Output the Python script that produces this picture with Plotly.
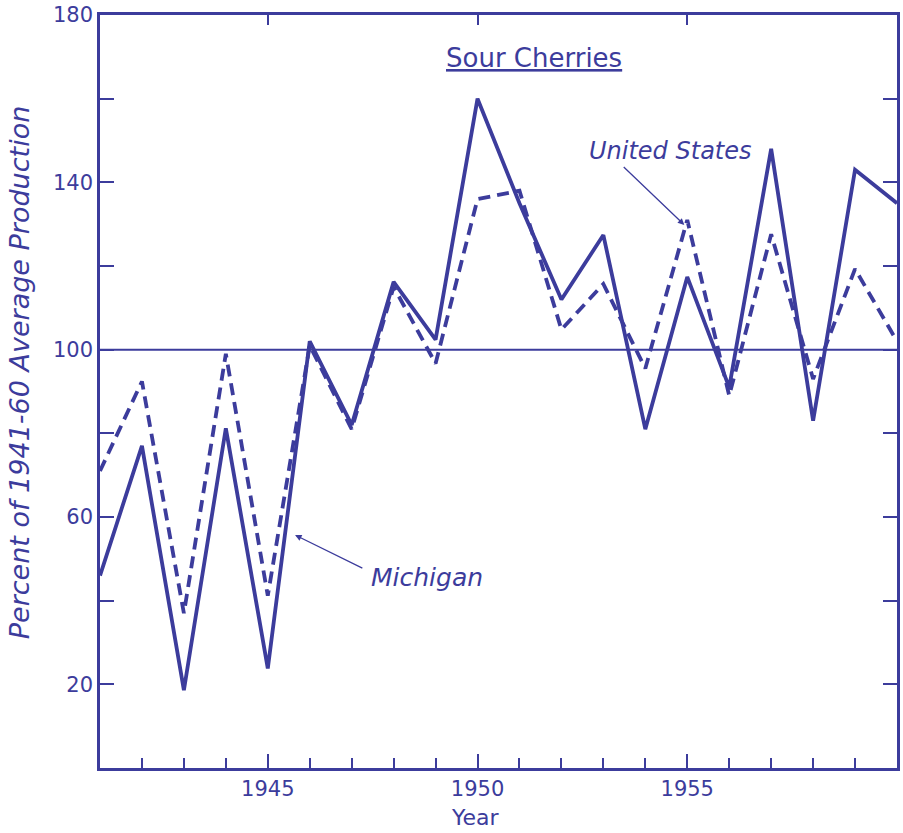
import plotly.graph_objects as go

years = list(range(1941, 1961))
michigan = [46, 77, 18.6, 81.2, 23.8, 102, 82, 116.2, 102.4, 160,
            135, 112, 127.4, 81, 117.4, 91, 148, 83, 143, 135]
united_states = [71, 92.4, 37, 99, 41.2, 101, 81, 115, 96.7, 136,
                 138, 104.8, 115.7, 95.5, 131, 89, 127.6, 93, 119.3, 102]
y_ticks = [0, 20, 40, 60, 80, 100, 120, 140, 160, 180]
y_labels = ["", "20", "", "60", "", "100", "", "140", "", "180"]
x_major = [1945, 1950, 1955]

INK = "#3c3c9c"
FONT = "DejaVu Sans"

fig = go.Figure()
fig.add_trace(go.Scatter(x=years, y=michigan, mode="lines", name="Michigan",
                         line=dict(color=INK, width=3.8)))
fig.add_trace(go.Scatter(x=years, y=united_states, mode="lines", name="United States",
                         line=dict(color=INK, width=3.8, dash="12px,7px")))
fig.add_trace(go.Scatter(x=[years[0]], y=[None], xaxis="x2", showlegend=False, hoverinfo="skip"))

fig.add_hline(y=100, line=dict(color=INK, width=2))

fig.update_layout(
    width=903, height=833,
    margin=dict(l=100, r=3, t=12, b=65),
    paper_bgcolor="white", plot_bgcolor="white",
    showlegend=False,
    font=dict(family=FONT, color=INK, size=21),
    xaxis=dict(range=[1941, 1960], tickvals=x_major, ticks="inside", ticklen=14,
               tickwidth=2, tickcolor=INK, showline=True, linecolor=INK, linewidth=2.5,
               showgrid=False, zeroline=False,
               minor=dict(tickvals=years, ticks="inside", ticklen=10, tickwidth=2, tickcolor=INK),
               tickfont=dict(size=21)),
    xaxis2=dict(range=[1941, 1960], overlaying="x", side="top", tickvals=x_major,
                ticks="inside", ticklen=10, tickwidth=2, tickcolor=INK,
                showticklabels=False, showline=True, linecolor=INK, linewidth=2.5,
                showgrid=False, zeroline=False),
    yaxis=dict(range=[0, 180], tickvals=y_ticks, ticktext=y_labels, ticks="inside",
               ticklen=14, tickwidth=2, tickcolor=INK, showline=True, linecolor=INK,
               linewidth=2.5, mirror="ticks", showgrid=False, zeroline=False,
               tickfont=dict(size=21)),
)

# axis titles
fig.add_annotation(xref="paper", yref="paper", x=-0.1, y=0.526, textangle=-90,
                   text="<i>Percent of 1941-60 Average Production</i>", showarrow=False,
                   font=dict(size=27, color=INK), xanchor="center", yanchor="middle")
fig.add_annotation(xref="x", yref="paper", x=1949.95, y=-0.066,
                   text="Year", showarrow=False, font=dict(size=22, color=INK),
                   xanchor="center", yanchor="middle")

fig.add_annotation(x=1951.35, y=169.8, xref="x", yref="y",
                   text="<u>Sour Cherries</u>", showarrow=False,
                   font=dict(size=26, color=INK))
fig.add_annotation(x=1954.93, y=129.8, xref="x", yref="y", ax=1953.45, ay=144,
                   axref="x", ayref="y",
                   text="", showarrow=True, arrowhead=2, arrowsize=1, arrowwidth=1.3,
                   arrowcolor=INK)
fig.add_annotation(x=1954.6, y=147.6, xref="x", yref="y",
                   text="<i>United States</i>", showarrow=False,
                   font=dict(size=24, color=INK))
fig.add_annotation(x=1945.65, y=55.7, xref="x", yref="y", ax=1947.29, ay=47.6,
                   axref="x", ayref="y",
                   text="", showarrow=True, arrowhead=2, arrowsize=1, arrowwidth=1.3,
                   arrowcolor=INK)
fig.add_annotation(x=1948.79, y=45.5, xref="x", yref="y",
                   text="<i>Michigan</i>", showarrow=False,
                   font=dict(size=25, color=INK))

fig.write_html("out.html")
